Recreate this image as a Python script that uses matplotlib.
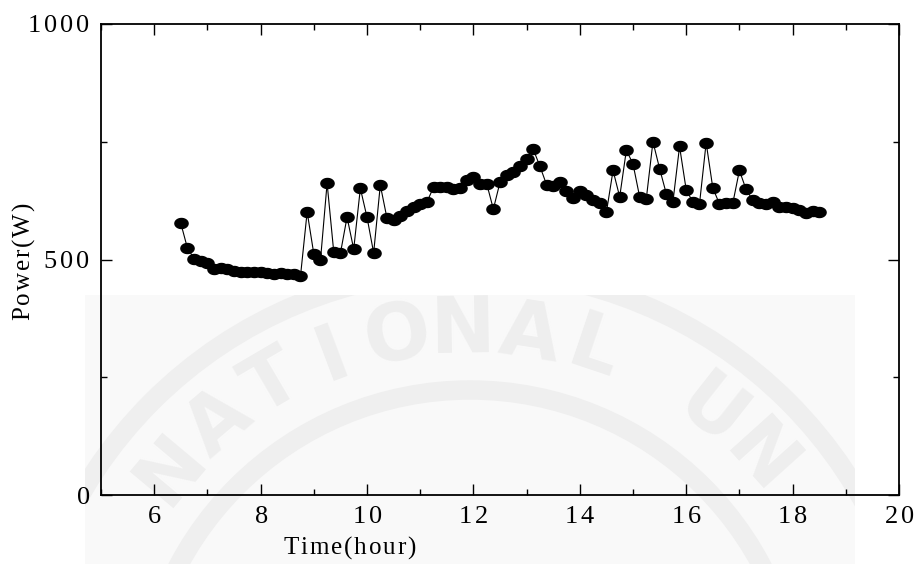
import numpy as np
import matplotlib
matplotlib.use("Agg")
import matplotlib.pyplot as plt
from matplotlib.path import Path
from matplotlib.patches import Rectangle, Circle
from matplotlib.ticker import MultipleLocator, FuncFormatter

# time of day (hour), one reading every 7.5 min
time_h = [6.5, 6.625, 6.75, 6.875, 7.0, 7.125, 7.25, 7.375, 7.5, 7.625,
          7.75, 7.875, 8.0, 8.125, 8.25, 8.375, 8.5, 8.625, 8.75, 8.875,
          9.0, 9.125, 9.25, 9.375, 9.5, 9.625, 9.75, 9.875, 10.0, 10.125,
          10.25, 10.375, 10.5, 10.625, 10.75, 10.875, 11.0, 11.125, 11.25, 11.375,
          11.5, 11.625, 11.75, 11.875, 12.0, 12.125, 12.25, 12.375, 12.5, 12.625,
          12.75, 12.875, 13.0, 13.125, 13.25, 13.375, 13.5, 13.625, 13.75, 13.875,
          14.0, 14.125, 14.25, 14.375, 14.5, 14.625, 14.75, 14.875, 15.0, 15.125,
          15.25, 15.375, 15.5, 15.625, 15.75, 15.875, 16.0, 16.125, 16.25, 16.375,
          16.5, 16.625, 16.75, 16.875, 17.0, 17.125, 17.25, 17.375, 17.5, 17.625,
          17.75, 17.875, 18.0, 18.125, 18.25, 18.375, 18.5]

power_w = [577, 524, 502, 497, 492, 480, 482, 479, 476, 473,
           473, 473, 474, 472, 469, 471, 470, 469, 465, 601,
           512, 498, 662, 516, 513, 590, 522, 651, 590, 514,
           658, 588, 584, 593, 602, 612, 617, 622, 653, 653,
           653, 649, 651, 669, 676, 661, 661, 607, 664, 679,
           686, 698, 713, 734, 698, 659, 655, 665, 646, 630,
           645, 638, 627, 621, 600, 689, 633, 732, 703, 633,
           629, 750, 693, 640, 622, 740, 648, 622, 618, 748,
           652, 618, 619, 619, 689, 649, 626, 619, 618, 623,
           611, 612, 609, 605, 598, 604, 600]

watermark = "NATIONAL UN"

plt.rcParams['font.family'] = ['Liberation Serif', 'DejaVu Serif']
plt.rcParams['mathtext.fontset'] = 'custom'
plt.rcParams['mathtext.rm'] = 'Liberation Serif'


def spaced(s, gap=0.12):
    # letter-spaced text, the original uses wide tracking
    parts = [r'\mathrm{%s}' % c for c in s]
    return '$' + (r'\hspace{%g}' % gap).join(parts) + '$'


fig = plt.figure(figsize=(9.19, 5.64), dpi=100)

# faded watermark behind the plot (pixel coords)
bg = fig.add_axes([0, 0, 1, 1], zorder=-1)
bg.set_xlim(0, 919)
bg.set_ylim(564, 0)
bg.axis('off')
clip = Rectangle((85, 295), 770, 269, facecolor='#f9f9f9', edgecolor='none')
bg.add_patch(clip)
cx, cy = 470, 720
for r in (450, 330):
    ring = Circle((cx, cy), r, fill=False, edgecolor='#efefef', linewidth=14)
    bg.add_patch(ring)
    ring.set_clip_path(clip)
angles = np.linspace(140, 42, len(watermark))
for ch, a in zip(watermark, angles):
    x = cx + 390 * np.cos(np.radians(a))
    y = cy - 390 * np.sin(np.radians(a))
    t = bg.text(x, y, ch, fontsize=56, fontweight='bold', color='#eeeeee',
                family='DejaVu Sans', ha='center', va='center', rotation=a - 90)
    t.set_clip_path(clip)

ax = fig.add_axes([101 / 919, 1 - 495 / 564, 798 / 919, 471 / 564])
ax.patch.set_alpha(0)

# elliptical marker like the original
th = np.linspace(0, 2 * np.pi, 40)
ell = Path(np.column_stack([np.cos(th), 0.76 * np.sin(th)]), closed=True)

ax.plot(time_h, power_w, color='black', linewidth=0.8, zorder=2)
ax.plot(time_h, power_w, linestyle='none', marker=ell, markersize=9.5,
        markerfacecolor='black', markeredgecolor='black', zorder=3)

ax.set_xlim(5, 20)
ax.set_ylim(0, 1000)
ax.xaxis.set_major_locator(MultipleLocator(2))
ax.xaxis.set_minor_locator(MultipleLocator(1))
ax.yaxis.set_major_locator(MultipleLocator(500))
ax.yaxis.set_minor_locator(MultipleLocator(250))

fmt = FuncFormatter(lambda v, p: spaced(str(int(round(v))), 0.12))
ax.xaxis.set_major_formatter(fmt)
ax.yaxis.set_major_formatter(fmt)

ax.tick_params(which='both', direction='in', top=True, right=True, width=1.0)
ax.tick_params(which='major', length=8, labelsize=19, pad=8)
ax.tick_params(which='minor', length=4)
for s in ax.spines.values():
    s.set_linewidth(1.3)

fig.text(24 / 919, 1 - 262 / 564, spaced('Power(W)', 0.08),
         rotation=90, ha='center', va='center', fontsize=18)
fig.text(350 / 919, 1 - 548 / 564, spaced('Time(hour)', 0.08),
         ha='center', va='center', fontsize=18)

fig.savefig('out.png', dpi=100)
